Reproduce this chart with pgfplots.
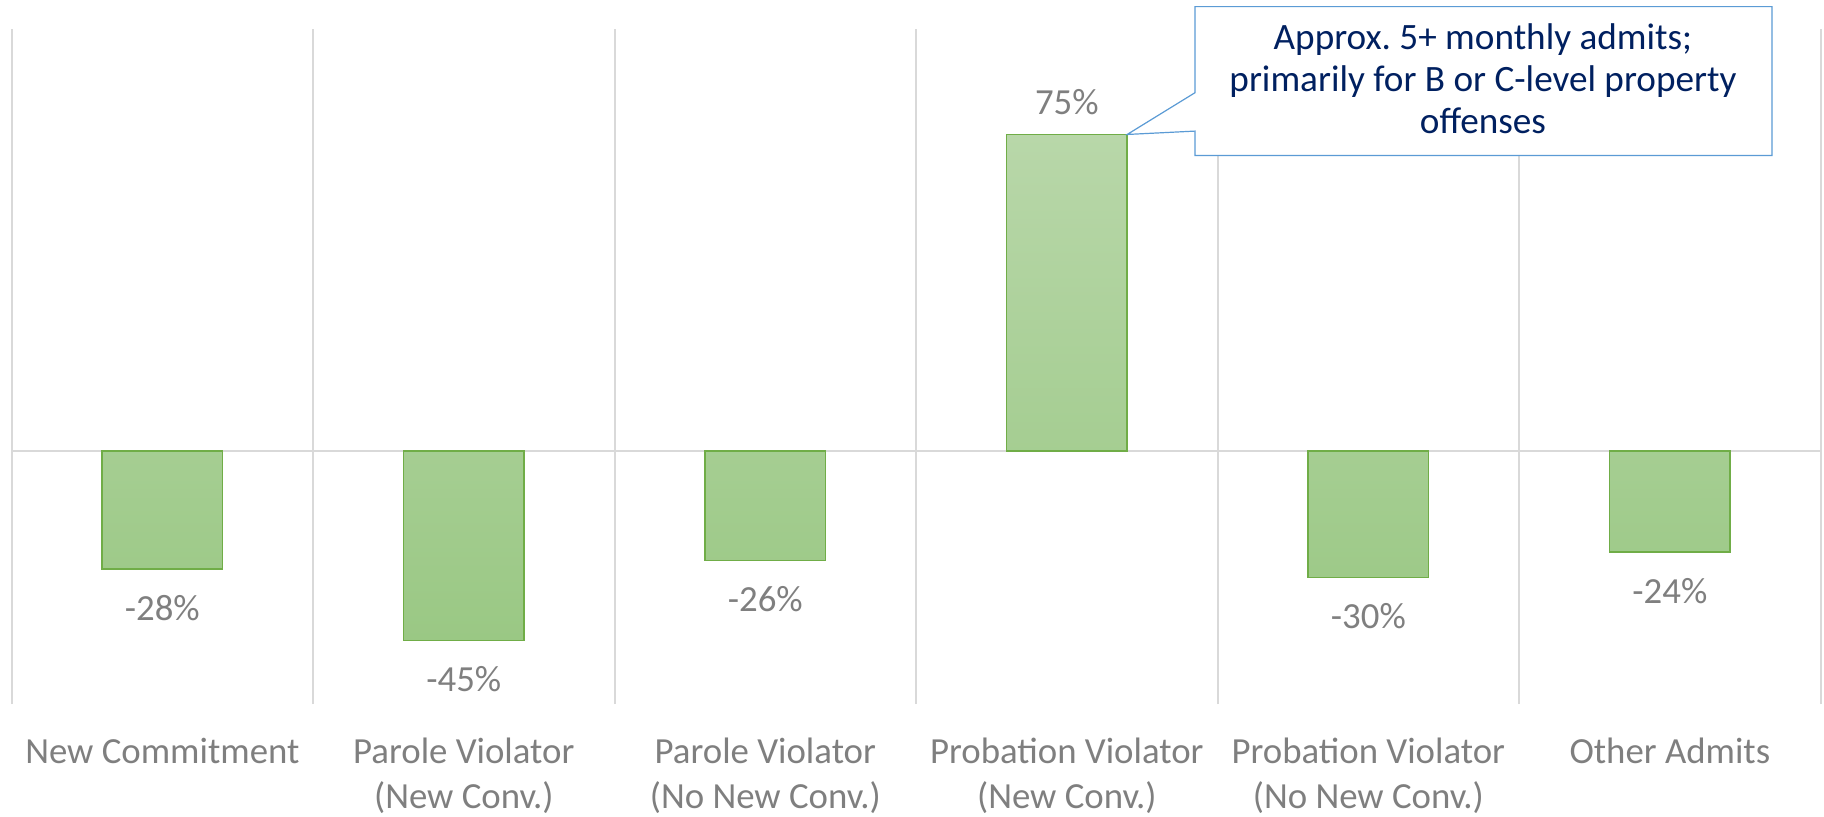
\documentclass[border=0pt]{standalone}
\usepackage{fontspec}
\setmainfont{Carlito}
\usepackage{pgfplots}
\pgfplotsset{compat=1.18}
\definecolor{barTop}{HTML}{B8D7A9}
\definecolor{barBot}{HTML}{9AC884}
\definecolor{barEdge}{HTML}{70AD47}
\definecolor{lblGray}{HTML}{7F7F7F}
\definecolor{gridGray}{HTML}{D9D9D9}
\definecolor{callBlue}{HTML}{5B9BD5}
\definecolor{callText}{HTML}{002060}
\begin{document}
\frenchspacing
\begin{tikzpicture}
\begin{axis}[
  at={(0,0)}, anchor=south west,
  scale only axis, width=904.5pt, height=337.5pt,
  xmin=-0.5, xmax=5.5, ymin=-60, ymax=100,
  axis line style={draw=none},
  ytick={0}, yticklabels={}, ymajorgrids,
  major grid style={gridGray, line width=1pt},
  xtick={0,1,2,3,4,5},
  xticklabels={New Commitment,{Parole Violator\\(New Conv.)},{Parole Violator\\(No New Conv.)},{Probation Violator\\(New Conv.)},{Probation Violator\\(No New Conv.)},Other Admits},
  minor xtick={-0.5,0.5,1.5,2.5,3.5,4.5,5.5},
  xminorgrids,
  minor grid style={gridGray, line width=1pt},
  major tick length=0pt, minor tick length=0pt,
  xticklabel style={align=center, font=\fontsize{18.4pt}{22.2pt}\selectfont, text=lblGray, inner sep=0pt, yshift=-17pt},
  ybar, bar width=0.4,
  clip=false,
  nodes near coords, point meta=explicit symbolic,
  visualization depends on={rawy \as \rawy},
  every node near coord/.append style={font=\fontsize{18.4pt}{22pt}\selectfont, text=lblGray, inner ysep=12pt,
    /utils/exec={\ifdim\rawy pt<0pt \gdef\nnanchor{north}\gdef\nnshift{-0.7pt}\else\gdef\nnanchor{south}\gdef\nnshift{-2.3pt}\fi},
    anchor=\nnanchor, yshift=\nnshift},
]
\addplot[draw=barEdge, line width=0.75pt, top color=barTop, bottom color=barBot] coordinates {
  (0,-28) [-28\%]
  (1,-45) [-45\%]
  (2,-26) [-26\%]
  (3,75) [75\%]
  (4,-30) [-30\%]
  (5,-24) [-24\%]
};
\draw[callBlue, line width=0.6pt, fill=white]
  (axis cs:3.425,105.3) -- (axis cs:5.339,105.3) -- (axis cs:5.339,70) -- (axis cs:3.425,70)
  -- (axis cs:3.425,75.8) -- (axis cs:3.2,75) -- (axis cs:3.425,84.9) -- cycle;
\node[align=center, text=callText, font=\fontsize{18.6pt}{20.9pt}\selectfont] at (axis cs:4.38,88.2)
  {Approx. 5+ monthly admits;\\primarily for B or C-level property\\offenses};
\end{axis}
\pgfresetboundingbox
\path[use as bounding box] (-5.8pt,-56pt) rectangle (906.2pt,352pt);
\end{tikzpicture}
\end{document}
